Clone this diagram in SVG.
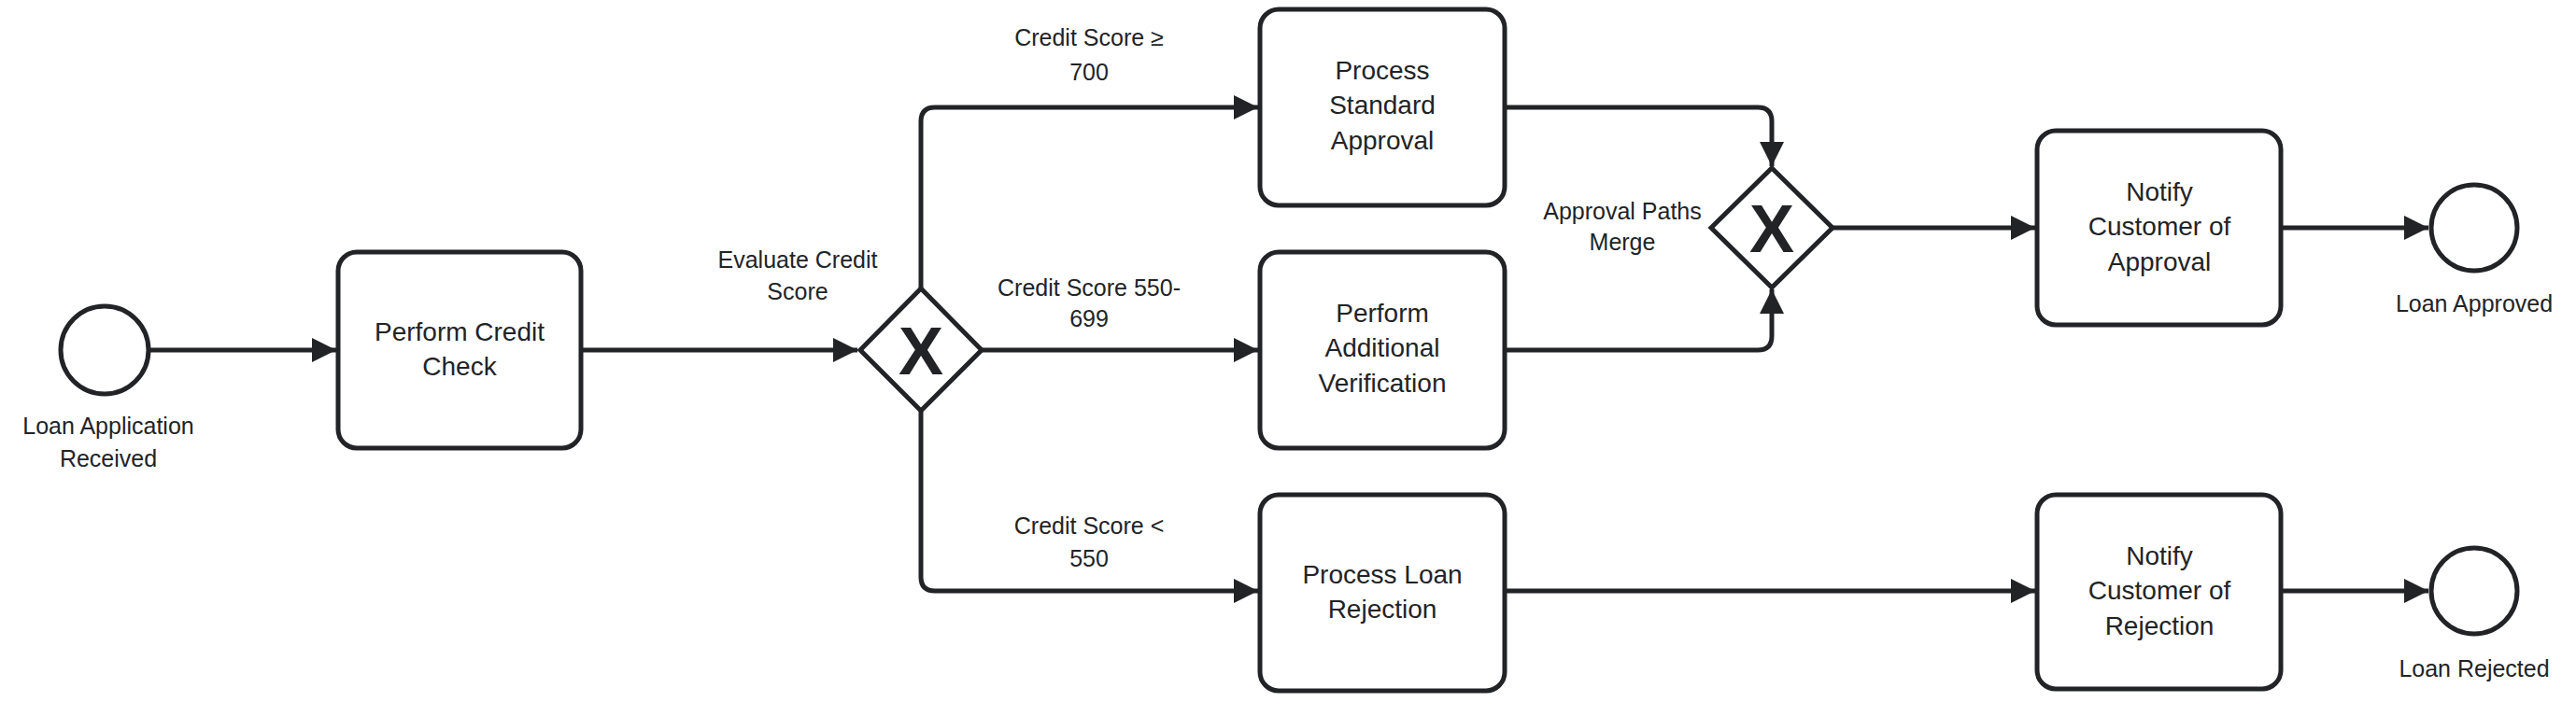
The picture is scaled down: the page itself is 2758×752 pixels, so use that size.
<svg xmlns="http://www.w3.org/2000/svg" width="2758" height="752" viewBox="0 0 2758 752">
<style>
.n{fill:#fff;stroke:#222326;stroke-width:5}
.e{fill:none;stroke:#222326;stroke-width:5}
.t{font-family:"Liberation Sans",Arial,sans-serif;font-size:28px;fill:#222326;text-anchor:middle}
.l{font-family:"Liberation Sans",Arial,sans-serif;font-size:25px;fill:#222326;text-anchor:middle}
.x{font-family:"Liberation Sans",Arial,sans-serif;font-size:72px;font-weight:bold;fill:#222326;text-anchor:middle}
</style>
<defs>
<marker id="a" markerUnits="userSpaceOnUse" markerWidth="28" markerHeight="28" refX="26" refY="13" orient="auto">
<path d="M0,0 L26,13 L0,26 Z" fill="#222326"/>
</marker>
</defs>
<rect width="2758" height="752" fill="#fff"/>
<g id="connectors">
<path class="e" d="M158,375 H360" marker-end="url(#a)"/>
<path class="e" d="M622,375 H918" marker-end="url(#a)"/>
<path class="e" d="M986,309 V130 Q986,115 1001,115 H1347" marker-end="url(#a)"/>
<path class="e" d="M1051,375 H1347" marker-end="url(#a)"/>
<path class="e" d="M986,440 V618 Q986,633 1001,633 H1347" marker-end="url(#a)"/>
<path class="e" d="M1611,115 H1882 Q1897,115 1897,130 V178" marker-end="url(#a)"/>
<path class="e" d="M1611,375 H1882 Q1897,375 1897,360 V310" marker-end="url(#a)"/>
<path class="e" d="M1962,244 H2179" marker-end="url(#a)"/>
<path class="e" d="M2442,244 H2600" marker-end="url(#a)"/>
<path class="e" d="M1611,633 H2179" marker-end="url(#a)"/>
<path class="e" d="M2442,633 H2600" marker-end="url(#a)"/>
<text class="l" x="1166" y="49">Credit Score ≥</text>
<text class="l" x="1166" y="86">700</text>
<text class="l" x="1166" y="317">Credit Score 550-</text>
<text class="l" x="1166" y="350">699</text>
<text class="l" x="1166" y="572">Credit Score &lt;</text>
<text class="l" x="1166" y="607">550</text>
</g>
<g id="start">
<circle class="n" cx="112" cy="375" r="47"/>
<text class="l" x="116" y="465">Loan Application</text>
<text class="l" x="116" y="500">Received</text>
</g>
<g id="creditCheck">
<rect class="n" x="362" y="270" width="260" height="210" rx="20"/>
<text class="t" x="492" y="365">Perform Credit</text>
<text class="t" x="492" y="402">Check</text>
</g>
<g id="gwEval">
<path class="n" d="M986,309 L1051,375 L986,440 L921,375 Z"/>
<text class="x" x="986" y="401">X</text>
<text class="l" x="854" y="287">Evaluate Credit</text>
<text class="l" x="854" y="321">Score</text>
</g>
<g id="standard">
<rect class="n" x="1349" y="10" width="262" height="210" rx="20"/>
<text class="t" x="1480" y="85">Process</text>
<text class="t" x="1480" y="122">Standard</text>
<text class="t" x="1480" y="160">Approval</text>
</g>
<g id="verify">
<rect class="n" x="1349" y="270" width="262" height="210" rx="20"/>
<text class="t" x="1480" y="345">Perform</text>
<text class="t" x="1480" y="382">Additional</text>
<text class="t" x="1480" y="420">Verification</text>
</g>
<g id="reject">
<rect class="n" x="1349" y="530" width="262" height="210" rx="20"/>
<text class="t" x="1480" y="625">Process Loan</text>
<text class="t" x="1480" y="662">Rejection</text>
</g>
<g id="gwMerge">
<path class="n" d="M1897,180 L1962,244 L1897,308 L1832,244 Z"/>
<text class="x" x="1897" y="270">X</text>
<text class="l" x="1737" y="235">Approval Paths</text>
<text class="l" x="1737" y="268">Merge</text>
</g>
<g id="notifyApproval">
<rect class="n" x="2181" y="140" width="261" height="208" rx="20"/>
<text class="t" x="2312" y="215">Notify</text>
<text class="t" x="2312" y="252">Customer of</text>
<text class="t" x="2312" y="290">Approval</text>
</g>
<g id="notifyRejection">
<rect class="n" x="2181" y="530" width="261" height="208" rx="20"/>
<text class="t" x="2312" y="605">Notify</text>
<text class="t" x="2312" y="642">Customer of</text>
<text class="t" x="2312" y="680">Rejection</text>
</g>
<g id="endApproved">
<circle class="n" cx="2649" cy="244" r="46" stroke-width="8"/>
<text class="l" x="2649" y="334">Loan Approved</text>
</g>
<g id="endRejected">
<circle class="n" cx="2649" cy="633" r="46" stroke-width="8"/>
<text class="l" x="2649" y="725">Loan Rejected</text>
</g>
</svg>
